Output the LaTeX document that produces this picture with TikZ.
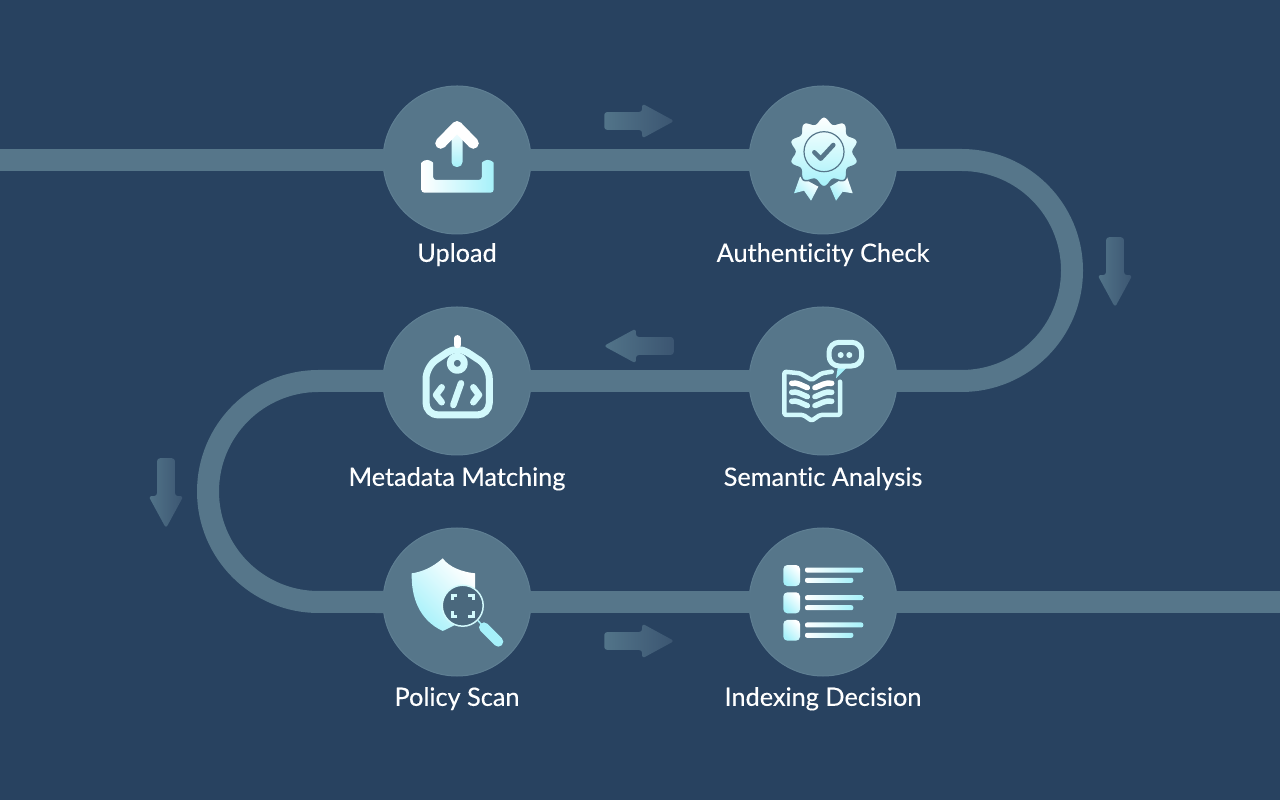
\documentclass[tikz,border=0pt]{standalone}
\usepackage{fontspec}
\setmainfont{Lato}[FakeBold=0.25,Ligatures=NoCommon]
\usetikzlibrary{positioning,shapes.arrows}
\definecolor{pagebg}{HTML}{284260}
\definecolor{trackcol}{HTML}{56768A}
\definecolor{discedge}{HTML}{5F7F93}
\definecolor{iconcyan}{HTML}{A6F1FA}
\definecolor{iconmid}{HTML}{D2F9FC}
\definecolor{lensfill}{HTML}{4A687D}
\definecolor{arrowdark}{HTML}{3B5571}
\definecolor{arrowlight}{HTML}{527489}
\tikzset{
    stepdisc/.style={circle,minimum size=1.48cm,inner sep=0pt,fill=trackcol,draw=discedge,line width=0.01cm},
    steplabel/.style={text=white,inner sep=0pt,font=\fontsize{7.2pt}{9pt}\selectfont},
    track/.style={draw=trackcol,line width=0.22cm,shorten >=-0.5pt,shorten <=-0.5pt},
    flowarrow/.style={single arrow,minimum height=0.7cm,minimum width=0.335cm,inner sep=0pt,
        text height=0.165cm,text width=0pt,text depth=0pt,
        single arrow head extend=0.085cm,single arrow tip angle=57,rounded corners=0.03cm,
        left color=arrowlight,right color=arrowdark},
    iconvert/.style={top color=white,bottom color=iconcyan},
    icondiag/.style={left color=white,right color=iconcyan,shading angle=-45},
    iconhorz/.style={left color=white,right color=iconcyan},
    iconline/.style={draw=iconmid,line cap=round,line join=round},
    iconframe/.style={x=0.01cm,y=0.01cm,shift={(#1.center)}}
}
\begin{document}
\begin{tikzpicture}
    \useasboundingbox (0,0) rectangle (12.8,8);
    \fill[pagebg] (0,0) rectangle (12.8,8);
    % stops
    \node[stepdisc] (upload) at (4.57,6.4) {};
    \node[stepdisc] (authcheck) at (8.23,6.4) {};
    \node[stepdisc] (semantic) at (8.23,4.19) {};
    \node[stepdisc] (metadata) at (4.57,4.19) {};
    \node[stepdisc] (policy) at (4.57,1.98) {};
    \node[stepdisc] (indexing) at (8.23,1.98) {};
    \node[steplabel,below=0.08cm of upload] (uploadtext) {Upload};
    \node[steplabel,below=0.08cm of authcheck] (authtext) {Authenticity Check};
    \node[steplabel,below=0.11cm of semantic] (semantictext) {Semantic Analysis};
    \node[steplabel,below=0.11cm of metadata] (metadatatext) {Metadata Matching};
    \node[steplabel,below=0.1cm of policy] (policytext) {Policy Scan};
    \node[steplabel,below=0.1cm of indexing] (indexingtext) {Indexing Decision};
    % track
    \coordinate (trackstart) at (0,6.4);
    \coordinate (trackend) at (12.8,1.98);
    \draw[track] (trackstart) -- (upload);
    \draw[track] (upload) -- (authcheck);
    \draw[track] (authcheck) -- (9.615,6.4) arc[start angle=90,end angle=-90,radius=1.105] -- (semantic);
    \draw[track] (semantic) -- (metadata);
    \draw[track] (metadata) -- (3.185,4.19) arc[start angle=90,end angle=270,radius=1.105] -- (policy);
    \draw[track] (policy) -- (indexing);
    \draw[track] (indexing) -- (trackend);
    % direction arrows
    \node[flowarrow] (arrowone) at (6.31,6.79) {};
    \node[flowarrow,rotate=-90] (arrowtwo) at (11.15,5.36) {};
    \node[flowarrow,rotate=180] (arrowthree) at (6.47,4.54) {};
    \node[flowarrow,rotate=-90] (arrowfour) at (1.66,3.15) {};
    \node[flowarrow] (arrowfive) at (6.31,1.59) {};
    % upload icon
    \begin{scope}[iconframe=upload]
        \shade[iconvert,rounded corners=0.05cm] (-5.5,-7) rectangle (5.5,33);
        \draw[iconline,draw=white,line width=0.11cm] (-16.3,16.7) -- (0,33.5) -- (16.3,16.7);
        \shade[iconhorz,rounded corners=0.03cm] (-35.7,-5.9) arc[start angle=180,end angle=0,radius=5.9]
            -- (-23.9,-20) -- (24.8,-20) -- (24.8,-5.9) arc[start angle=180,end angle=0,radius=5.95]
            -- (36.7,-32.7) -- (-35.7,-32.7) -- cycle;
    \end{scope}
    % badge icon
    \begin{scope}[iconframe=authcheck]
        \shade[icondiag] (-23,-16.7) -- (-29,-33.3) -- (-19,-30.7) -- (-12,-40.7) -- (-4.7,-26.7) -- cycle;
        \shade[icondiag] (23.7,-16) -- (29.7,-33.3) -- (19.7,-31.7) -- (13,-40.7) -- (7,-26.7) -- cycle;
        \draw[top color=white,bottom color=iconcyan,middle color=iconmid,draw=trackcol,line width=0.015cm] plot[domain=0:360,samples=121]
            ({1+(32+3*cos(10*(\x-90)))*cos(\x)},{8.3+(32+3*cos(10*(\x-90)))*sin(\x)}) -- cycle;
        \draw[draw=trackcol,line width=0.012cm] (1,8.3) circle[radius=20];
        \draw[draw=trackcol,line width=0.045cm,line cap=round,line join=round] (-8.7,7.7) -- (-2.3,1.3) -- (10.3,15);
    \end{scope}
    % book icon
    \begin{scope}[iconframe=semantic]
        \draw[iconline,line width=0.045cm,rounded corners=0.015cm] (8.7,9.3) -- (-1.3,7.7) -- (-11.3,1) -- (-23,7.7) -- (-38.7,9.3)
            -- (-38.7,-34) -- (-19.7,-34) -- (-11.3,-39.7) -- (-3,-34) -- (17,-34) -- (17,-0.7);
        \draw[iconline,draw=white,line width=0.055cm] (-31.3,-2.3) to[out=10,in=160] (-15.7,-6.7);
        \draw[iconline,line width=0.055cm] (-31.3,-11.3) to[out=10,in=160] (-15.7,-15.7);
        \draw[iconline,line width=0.055cm] (-31.3,-20.3) to[out=10,in=160] (-15.7,-24.7);
        \draw[iconline,draw=white,line width=0.055cm] (8.7,-2.3) to[out=170,in=20] (-8,-6.7);
        \draw[iconline,line width=0.055cm] (8.7,-11.3) to[out=170,in=20] (-8,-15.7);
        \draw[iconline,line width=0.055cm] (8.7,-20.3) to[out=170,in=20] (-8,-24.7);
        \fill[iconcyan] (13,2.7) -- (15.3,16.7) -- (27,16.7) -- cycle;
        \draw[iconline,fill=trackcol,line width=0.05cm,rounded corners=0.1cm] (6,15) rectangle (38.7,38.7);
        \fill[iconmid] (17.7,26) circle[radius=3];
        \fill[iconmid] (26.3,26) circle[radius=3];
    \end{scope}
    % tag icon
    \begin{scope}[iconframe=metadata]
        \draw[iconline,line width=0.07cm,rounded corners=0.12cm] (0.3,35.3) -- (32.3,14.3) -- (32.3,-34) -- (-31,-34) -- (-31,14.3) -- cycle;
        \draw[iconline,draw=white,line width=0.065cm] (0.3,42.7) -- (0.3,36);
        \draw[iconline,line width=0.07cm] (0.3,17.7) circle[radius=7];
        \draw[iconline,line width=0.065cm] (-15.3,-6.3) -- (-21,-14) -- (-15.3,-21.3);
        \draw[iconline,line width=0.065cm] (16.3,-6.3) -- (22,-14) -- (16.3,-21.3);
        \draw[iconline,line width=0.065cm] (4,-2.3) -- (-3.7,-24);
    \end{scope}
    % shield icon
    \begin{scope}[iconframe=policy]
        \shade[icondiag] (-14.3,43.7) .. controls (-24,35) and (-35,30) .. (-45.3,28.7)
            .. controls (-46,5) and (-38,-18) .. (-14.3,-29)
            .. controls (-6,-25) and (6,-20) .. (14,-10) -- (18,5)
            -- (18,28.7) .. controls (5,30) and (-8,35) .. (-14.3,43.7) -- cycle;
        \draw[draw=iconcyan,line width=0.015cm] (21,-18.5) -- (26.3,-24.7);
        \draw[draw=iconcyan,line width=0.1cm,line cap=round] (27,-25.4) -- (41.3,-39.7);
        \draw[draw=iconmid,fill=lensfill,line width=0.015cm] (5.7,-3.7) circle[radius=20.5];
        \draw[iconline,line width=0.03cm,line cap=butt,line join=miter] (-4.8,2) -- (-4.8,6.8) -- (0,6.8);
        \draw[iconline,line width=0.03cm,line cap=butt,line join=miter] (11.4,6.8) -- (16.2,6.8) -- (16.2,2);
        \draw[iconline,line width=0.03cm,line cap=butt,line join=miter] (16.2,-9.4) -- (16.2,-14.2) -- (11.4,-14.2);
        \draw[iconline,line width=0.03cm,line cap=butt,line join=miter] (0,-14.2) -- (-4.8,-14.2) -- (-4.8,-9.4);
    \end{scope}
    % list icon
    \begin{scope}[iconframe=indexing]
        \shade[icondiag,rounded corners=0.04cm] (-39.7,16) rectangle (-23,37);
        \shade[iconhorz,rounded corners=0.02cm] (-18,29.5) rectangle (40.3,34.5);
        \shade[iconhorz,rounded corners=0.02cm] (-18,19.2) rectangle (30.3,24.2);
        \shade[icondiag,rounded corners=0.04cm] (-39.7,-11.3) rectangle (-23,9.7);
        \shade[iconhorz,rounded corners=0.02cm] (-18,1.8) rectangle (40.3,6.8);
        \shade[iconhorz,rounded corners=0.02cm] (-18,-8.2) rectangle (30.3,-3.2);
        \shade[icondiag,rounded corners=0.04cm] (-39.7,-38.7) rectangle (-23,-18);
        \shade[iconhorz,rounded corners=0.02cm] (-18,-25.5) rectangle (40.3,-20.5);
        \shade[iconhorz,rounded corners=0.02cm] (-18,-35.8) rectangle (30.3,-30.8);
    \end{scope}
\end{tikzpicture}
\end{document}
